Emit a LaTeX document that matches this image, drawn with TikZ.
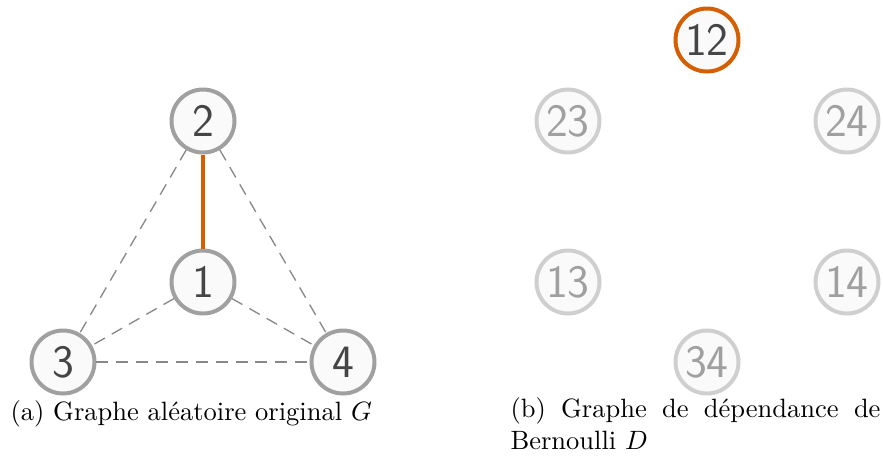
\documentclass[tikz,border=0pt]{standalone}
\usepackage{fontspec}
\definecolor{nfill}{HTML}{FAFAFA}
\definecolor{ndark}{HTML}{A0A0A0}
\definecolor{nlight}{HTML}{CFCFCF}
\definecolor{tdark}{HTML}{454545}
\definecolor{tlight}{HTML}{A0A0A0}
\definecolor{orangeE}{HTML}{D55E00}
\definecolor{dashc}{HTML}{888888}
\begin{document}
\begin{tikzpicture}[x=0.3774pt,y=-0.3774pt,
  vnode/.style={circle,minimum size=63*0.3774pt,inner sep=0pt,line width=1.5pt,fill=nfill,
    font=\sffamily\fontsize{17.5}{17.5}\selectfont},
  gnode/.style={vnode,draw=ndark,text=tdark},
  lnode/.style={vnode,draw=nlight,text=tlight},
  hnode/.style={vnode,draw=orangeE,text=tdark},
  dedge/.style={draw=dashc,line width=0.5pt,dash pattern=on 4.5pt off 3pt},
  hedge/.style={draw=orangeE,line width=1.5pt}]
\useasboundingbox (0,0) rectangle (883,467);
% left graph
\node[gnode] (n2) at (203,121) {2};
\node[gnode] (n1) at (203,282) {1};
\node[gnode] (n3) at (63,362) {3};
\node[gnode] (n4) at (343,362) {4};
\draw[dedge] (n2) -- (n3);
\draw[dedge] (n2) -- (n4);
\draw[dedge] (n1) -- (n3);
\draw[dedge] (n1) -- (n4);
\draw[dedge] (n3) -- (n4);
\draw[hedge] (n2) -- (n1);
% right graph
\node[hnode] (m12) at (707,40) {12};
\node[lnode] (m23) at (568,121) {23};
\node[lnode] (m24) at (847,121) {24};
\node[lnode] (m13) at (568,282) {13};
\node[lnode] (m14) at (847,282) {14};
\node[lnode] (m34) at (707,362) {34};
% captions
\node[anchor=base west,inner sep=0pt] (capa) at (10,420) {(a) Graphe aléatoire original $G$};
\node[anchor=north west,inner sep=0pt,text width=370*0.3774pt,align=justify] (capb) at (510,397)
  {(b) Graphe de dépendance de\linebreak Bernoulli $D$};
\end{tikzpicture}
\end{document}
